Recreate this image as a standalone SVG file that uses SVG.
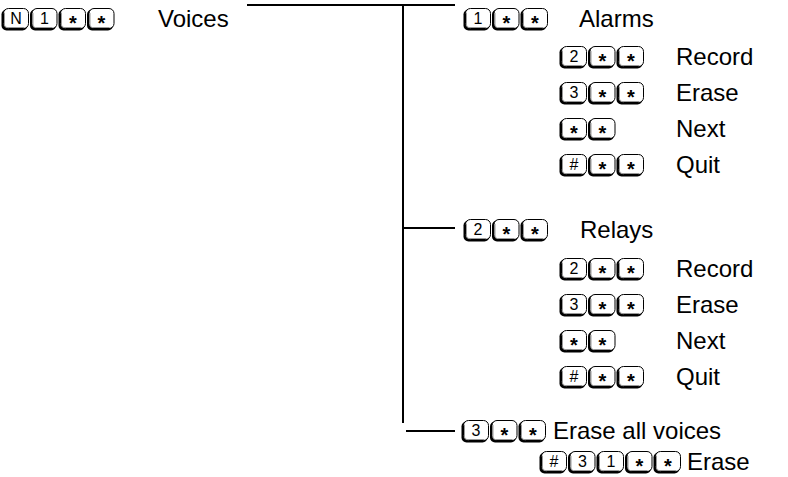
<svg xmlns="http://www.w3.org/2000/svg" xmlns:xlink="http://www.w3.org/1999/xlink" width="788" height="477" viewBox="0 0 788 477">
<style>
.t{font-family:"Liberation Sans",Arial,sans-serif;font-size:24px;fill:#000}
.k{font-family:"Liberation Sans",Arial,sans-serif;font-size:16px;fill:#000;text-anchor:middle}
.s{font-family:"Liberation Sans",Arial,sans-serif;font-size:20px;font-weight:bold;fill:#000;text-anchor:middle}
.ln{stroke:#000;stroke-width:2;fill:none}
</style>
<defs>
<g id="key">
<rect x="-1.5" y="1.5" width="26" height="21" rx="5" fill="#000"/>
<rect x="0.5" y="0.5" width="25" height="20" rx="5" fill="#fff" stroke="#000" stroke-width="1"/>
<path d="M1.5 5 V17 Q1.5 19.5 4 19.5 H21" stroke="#999" stroke-width="1" fill="none"/>
</g>
</defs>
<rect width="788" height="477" fill="#fff"/>
<g id="connectors">
<line class="ln" x1="247" y1="5" x2="455" y2="5"/>
<line class="ln" x1="403" y1="5" x2="403" y2="423"/>
<line class="ln" x1="403" y1="228" x2="455" y2="228"/>
<line class="ln" x1="406" y1="431" x2="455" y2="431"/>
</g>
<g id="voices" transform="translate(3,8)">
<use xlink:href="#key" x="0"/><text class="k" x="13" y="16">N</text>
<use xlink:href="#key" x="28.5"/><text class="k" x="41.5" y="16">1</text>
<use xlink:href="#key" x="57"/><text class="s" x="70" y="21.5">*</text>
<use xlink:href="#key" x="85.5"/><text class="s" x="98.5" y="21.5">*</text>
<text class="t" x="155" y="19">Voices</text>
</g>
<g id="alarms" transform="translate(465,8)">
<use xlink:href="#key" x="0"/><text class="k" x="13" y="16">1</text>
<use xlink:href="#key" x="28.5"/><text class="s" x="41.5" y="21.5">*</text>
<use xlink:href="#key" x="57"/><text class="s" x="70" y="21.5">*</text>
<text class="t" x="114" y="19">Alarms</text>
</g>
<g id="alarms-record" transform="translate(561,46)">
<use xlink:href="#key" x="0"/><text class="k" x="13" y="16">2</text>
<use xlink:href="#key" x="28.5"/><text class="s" x="41.5" y="21.5">*</text>
<use xlink:href="#key" x="57"/><text class="s" x="70" y="21.5">*</text>
<text class="t" x="115" y="19">Record</text>
</g>
<g id="alarms-erase" transform="translate(561,82)">
<use xlink:href="#key" x="0"/><text class="k" x="13" y="16">3</text>
<use xlink:href="#key" x="28.5"/><text class="s" x="41.5" y="21.5">*</text>
<use xlink:href="#key" x="57"/><text class="s" x="70" y="21.5">*</text>
<text class="t" x="115" y="19">Erase</text>
</g>
<g id="alarms-next" transform="translate(561,118)">
<use xlink:href="#key" x="0"/><text class="s" x="13" y="21.5">*</text>
<use xlink:href="#key" x="28.5"/><text class="s" x="41.5" y="21.5">*</text>
<text class="t" x="115" y="19">Next</text>
</g>
<g id="alarms-quit" transform="translate(561,154)">
<use xlink:href="#key" x="0"/><text class="k" x="13" y="16">#</text>
<use xlink:href="#key" x="28.5"/><text class="s" x="41.5" y="21.5">*</text>
<use xlink:href="#key" x="57"/><text class="s" x="70" y="21.5">*</text>
<text class="t" x="115" y="19">Quit</text>
</g>
<g id="relays" transform="translate(465,219)">
<use xlink:href="#key" x="0"/><text class="k" x="13" y="16">2</text>
<use xlink:href="#key" x="28.5"/><text class="s" x="41.5" y="21.5">*</text>
<use xlink:href="#key" x="57"/><text class="s" x="70" y="21.5">*</text>
<text class="t" x="115" y="19">Relays</text>
</g>
<g id="relays-record" transform="translate(561,258)">
<use xlink:href="#key" x="0"/><text class="k" x="13" y="16">2</text>
<use xlink:href="#key" x="28.5"/><text class="s" x="41.5" y="21.5">*</text>
<use xlink:href="#key" x="57"/><text class="s" x="70" y="21.5">*</text>
<text class="t" x="115" y="19">Record</text>
</g>
<g id="relays-erase" transform="translate(561,294)">
<use xlink:href="#key" x="0"/><text class="k" x="13" y="16">3</text>
<use xlink:href="#key" x="28.5"/><text class="s" x="41.5" y="21.5">*</text>
<use xlink:href="#key" x="57"/><text class="s" x="70" y="21.5">*</text>
<text class="t" x="115" y="19">Erase</text>
</g>
<g id="relays-next" transform="translate(561,330)">
<use xlink:href="#key" x="0"/><text class="s" x="13" y="21.5">*</text>
<use xlink:href="#key" x="28.5"/><text class="s" x="41.5" y="21.5">*</text>
<text class="t" x="115" y="19">Next</text>
</g>
<g id="relays-quit" transform="translate(561,366)">
<use xlink:href="#key" x="0"/><text class="k" x="13" y="16">#</text>
<use xlink:href="#key" x="28.5"/><text class="s" x="41.5" y="21.5">*</text>
<use xlink:href="#key" x="57"/><text class="s" x="70" y="21.5">*</text>
<text class="t" x="115" y="19">Quit</text>
</g>
<g id="erase-all" transform="translate(463,420)">
<use xlink:href="#key" x="0"/><text class="k" x="13" y="16">3</text>
<use xlink:href="#key" x="28.5"/><text class="s" x="41.5" y="21.5">*</text>
<use xlink:href="#key" x="57"/><text class="s" x="70" y="21.5">*</text>
<text class="t" x="90" y="19">Erase all voices</text>
</g>
<g id="erase-confirm" transform="translate(541,451)">
<use xlink:href="#key" x="0"/><text class="k" x="13" y="16">#</text>
<use xlink:href="#key" x="28.5"/><text class="k" x="41.5" y="16">3</text>
<use xlink:href="#key" x="57"/><text class="k" x="70" y="16">1</text>
<use xlink:href="#key" x="85.5"/><text class="s" x="98.5" y="21.5">*</text>
<use xlink:href="#key" x="114"/><text class="s" x="127" y="21.5">*</text>
<text class="t" x="146" y="19">Erase</text>
</g>
</svg>
